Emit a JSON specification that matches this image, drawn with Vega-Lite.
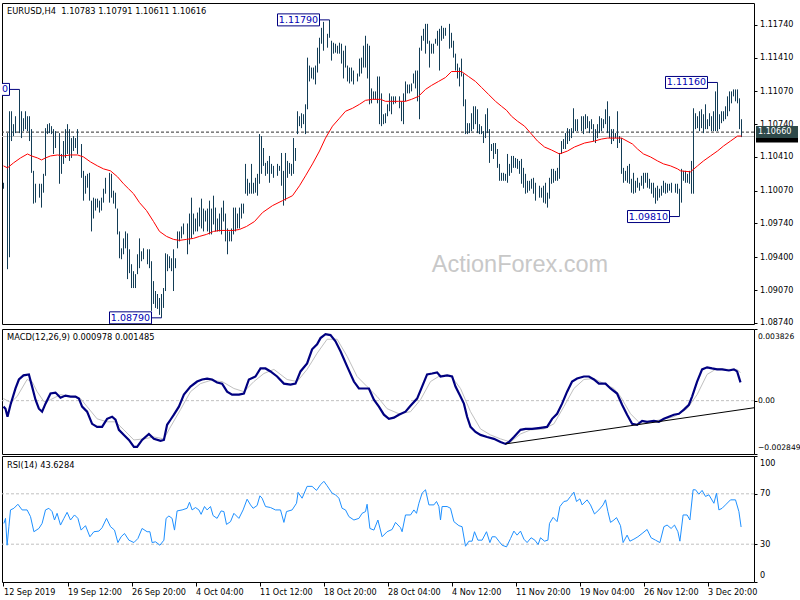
{
"$schema": "https://vega.github.io/schema/vega-lite/v6.json",
"padding": {"left": -2, "top": 2, "right": 0, "bottom": 0},
"spacing": 0,
"background": "#ffffff",
"config": {"font": "DejaVu Sans", "view": {"stroke": "#000000", "strokeWidth": 1}, "axis": {"labelFont": "DejaVu Sans", "labelFontSize": 8.1, "labelColor": "#000000", "tickColor": "#000000", "grid": false, "domain": false, "tickSize": 3, "labelPadding": 2.5, "labelOverlap": false, "labelBound": false}},
"datasets": {
"bars": [
{"i":0,"h":1.1015,"l":1.1009},{"i":2,"h":1.1065,"l":1.0928},{"i":3,"h":1.1087,"l":1.0940},{"i":4,"h":1.1087,"l":1.1057},{"i":5,"h":1.1074,"l":1.1062},{"i":6,"h":1.1082,"l":1.1065},{"i":8,"h":1.1109,"l":1.1065},{"i":9,"h":1.1087,"l":1.1060},{"i":10,"h":1.1080,"l":1.1067},{"i":11,"h":1.1087,"l":1.1069},{"i":12,"h":1.1082,"l":1.1067},{"i":13,"h":1.1082,"l":1.1057},{"i":14,"h":1.1069,"l":1.1025},{"i":15,"h":1.1027,"l":1.0994},{"i":16,"h":1.1014,"l":1.0995},{"i":18,"h":1.1014,"l":1.1000},{"i":19,"h":1.1014,"l":1.0990},{"i":20,"h":1.1024,"l":1.1005},{"i":21,"h":1.1070,"l":1.1022},{"i":22,"h":1.1074,"l":1.1064},{"i":23,"h":1.1075,"l":1.1065},{"i":24,"h":1.1072,"l":1.1064},{"i":25,"h":1.1069,"l":1.1044},{"i":26,"h":1.1067,"l":1.1050},{"i":28,"h":1.1065,"l":1.1014},{"i":29,"h":1.1044,"l":1.1024},{"i":30,"h":1.1057,"l":1.1034},{"i":31,"h":1.1069,"l":1.1040},{"i":32,"h":1.1074,"l":1.1044},{"i":33,"h":1.1069,"l":1.1037},{"i":34,"h":1.1060,"l":1.1040},{"i":35,"h":1.1062,"l":1.1047},{"i":36,"h":1.1060,"l":1.1050},{"i":37,"h":1.1069,"l":1.1044},{"i":39,"h":1.1054,"l":1.1020},{"i":40,"h":1.1027,"l":1.0997},{"i":41,"h":1.1022,"l":1.1004},{"i":42,"h":1.1024,"l":1.1010},{"i":43,"h":1.1025,"l":1.0997},{"i":44,"h":1.0997,"l":1.0966},{"i":45,"h":1.1000,"l":1.0979},{"i":46,"h":1.0999,"l":1.0987},{"i":47,"h":1.0999,"l":1.0990},{"i":48,"h":1.0997,"l":1.0985},{"i":49,"h":1.1000,"l":1.0987},{"i":50,"h":1.1009,"l":1.0995},{"i":51,"h":1.1020,"l":1.1004},{"i":53,"h":1.1025,"l":1.0995},{"i":54,"h":1.1024,"l":1.1000},{"i":55,"h":1.1007,"l":1.0994},{"i":56,"h":1.1005,"l":1.0989},{"i":57,"h":1.0989,"l":1.0963},{"i":58,"h":1.0966,"l":1.0939},{"i":59,"h":1.0949,"l":1.0938},{"i":60,"h":1.0959,"l":1.0943},{"i":61,"h":1.0966,"l":1.0949},{"i":62,"h":1.0964,"l":1.0918},
{"i":63,"h":1.0948,"l":1.0924},{"i":64,"h":1.0933,"l":1.0909},{"i":65,"h":1.0926,"l":1.0909},{"i":66,"h":1.0923,"l":1.0909},{"i":67,"h":1.0943,"l":1.0923},{"i":68,"h":1.0959,"l":1.0929},{"i":69,"h":1.0946,"l":1.0936},{"i":70,"h":1.0949,"l":1.0938},{"i":72,"h":1.0948,"l":1.0933},{"i":73,"h":1.0948,"l":1.0929},{"i":74,"h":1.0936,"l":1.0886},{"i":75,"h":1.0916,"l":1.0893},{"i":76,"h":1.0906,"l":1.0889},{"i":77,"h":1.0903,"l":1.0888},{"i":78,"h":1.0899,"l":1.0882},{"i":79,"h":1.0903,"l":1.0879},{"i":80,"h":1.0909,"l":1.0889},{"i":81,"h":1.0944,"l":1.0906},{"i":82,"h":1.0943,"l":1.0926},{"i":83,"h":1.0941,"l":1.0929},{"i":84,"h":1.0939,"l":1.0926},{"i":85,"h":1.0948,"l":1.0906},{"i":86,"h":1.0939,"l":1.0929},{"i":87,"h":1.0966,"l":1.0949},{"i":88,"h":1.0966,"l":1.0956},{"i":89,"h":1.0971,"l":1.0959},{"i":90,"h":1.0974,"l":1.0963},{"i":92,"h":1.0974,"l":1.0943},{"i":93,"h":1.0984,"l":1.0953},{"i":94,"h":1.1000,"l":1.0959},{"i":95,"h":1.0984,"l":1.0963},{"i":96,"h":1.0979,"l":1.0966},{"i":97,"h":1.0985,"l":1.0966},{"i":98,"h":1.0990,"l":1.0971},{"i":99,"h":1.0999,"l":1.0969},{"i":100,"h":1.0989,"l":1.0966},{"i":101,"h":1.0987,"l":1.0976},{"i":102,"h":1.0989,"l":1.0966},{"i":103,"h":1.0997,"l":1.0963},{"i":104,"h":1.0989,"l":1.0963},{"i":105,"h":1.1002,"l":1.0973},{"i":106,"h":1.0990,"l":1.0966},{"i":107,"h":1.0979,"l":1.0966},{"i":108,"h":1.0984,"l":1.0966},{"i":109,"h":1.0990,"l":1.0963},{"i":110,"h":1.0997,"l":1.0976},{"i":111,"h":1.0984,"l":1.0956},{"i":112,"h":1.0969,"l":1.0943},{"i":113,"h":1.0966,"l":1.0956},{"i":114,"h":1.0969,"l":1.0956},{"i":115,"h":1.0990,"l":1.0963},{"i":116,"h":1.0990,"l":1.0966},{"i":117,"h":1.0984,"l":1.0969},{"i":118,"h":1.0990,"l":1.0969},{"i":119,"h":1.0994,"l":1.0979},{"i":120,"h":1.0994,"l":1.0984},{"i":121,"h":1.1034,"l":1.1004},{"i":122,"h":1.1019,"l":1.1002},{"i":123,"h":1.1015,"l":1.1004},{"i":124,"h":1.1034,"l":1.1004},
{"i":125,"h":1.1015,"l":1.1004},{"i":126,"h":1.1020,"l":1.1005},{"i":127,"h":1.1024,"l":1.1002},{"i":128,"h":1.1064,"l":1.1014},{"i":129,"h":1.1062,"l":1.1024},{"i":130,"h":1.1050,"l":1.1032},{"i":131,"h":1.1035,"l":1.1022},{"i":132,"h":1.1037,"l":1.1024},{"i":133,"h":1.1042,"l":1.1015},{"i":134,"h":1.1034,"l":1.1024},{"i":135,"h":1.1032,"l":1.1020},{"i":137,"h":1.1034,"l":1.1022},{"i":138,"h":1.1032,"l":1.1027},{"i":139,"h":1.1045,"l":1.1012},{"i":140,"h":1.1027,"l":1.0992},{"i":141,"h":1.1045,"l":1.0997},{"i":142,"h":1.1037,"l":1.1020},{"i":143,"h":1.1035,"l":1.1024},{"i":144,"h":1.1034,"l":1.1022},{"i":145,"h":1.1060,"l":1.1024},{"i":146,"h":1.1050,"l":1.1037},{"i":147,"h":1.1087,"l":1.1064},{"i":148,"h":1.1082,"l":1.1072},{"i":149,"h":1.1085,"l":1.1070},{"i":150,"h":1.1084,"l":1.1074},{"i":151,"h":1.1094,"l":1.1064},{"i":152,"h":1.1141,"l":1.1089},{"i":153,"h":1.1133,"l":1.1117},{"i":154,"h":1.1131,"l":1.1120},{"i":155,"h":1.1131,"l":1.1119},{"i":156,"h":1.1133,"l":1.1114},{"i":157,"h":1.1151,"l":1.1126},{"i":158,"h":1.1161,"l":1.1135},{"i":159,"h":1.1171,"l":1.1155},{"i":160,"h":1.1177,"l":1.1148},{"i":162,"h":1.1165,"l":1.1151},{"i":163,"h":1.1179,"l":1.1161},{"i":164,"h":1.1158,"l":1.1138},{"i":165,"h":1.1156,"l":1.1145},{"i":166,"h":1.1155,"l":1.1146},{"i":167,"h":1.1153,"l":1.1145},{"i":168,"h":1.1156,"l":1.1145},{"i":169,"h":1.1155,"l":1.1135},{"i":170,"h":1.1148,"l":1.1120},{"i":171,"h":1.1153,"l":1.1131},{"i":172,"h":1.1133,"l":1.1117},{"i":173,"h":1.1131,"l":1.1115},{"i":174,"h":1.1131,"l":1.1117},{"i":175,"h":1.1128,"l":1.1114},{"i":177,"h":1.1125,"l":1.1117},{"i":178,"h":1.1140,"l":1.1122},{"i":179,"h":1.1141,"l":1.1125},{"i":180,"h":1.1153,"l":1.1131},{"i":181,"h":1.1163,"l":1.1131},{"i":182,"h":1.1155,"l":1.1120},{"i":183,"h":1.1153,"l":1.1094},{"i":184,"h":1.1110,"l":1.1095},{"i":185,"h":1.1107,"l":1.1099},{"i":186,"h":1.1107,"l":1.1099},{"i":187,"h":1.1122,"l":1.1095},
{"i":188,"h":1.1122,"l":1.1074},{"i":189,"h":1.1105,"l":1.1072},{"i":190,"h":1.1084,"l":1.1074},{"i":191,"h":1.1085,"l":1.1075},{"i":192,"h":1.1094,"l":1.1082},{"i":193,"h":1.1105,"l":1.1087},{"i":194,"h":1.1102,"l":1.1084},{"i":195,"h":1.1102,"l":1.1094},{"i":196,"h":1.1102,"l":1.1095},{"i":198,"h":1.1102,"l":1.1090},{"i":199,"h":1.1097,"l":1.1077},{"i":200,"h":1.1105,"l":1.1074},{"i":201,"h":1.1117,"l":1.1097},{"i":202,"h":1.1114,"l":1.1105},{"i":203,"h":1.1114,"l":1.1105},{"i":204,"h":1.1115,"l":1.1107},{"i":205,"h":1.1125,"l":1.1115},{"i":206,"h":1.1128,"l":1.1110},{"i":207,"h":1.1128,"l":1.1097},{"i":208,"h":1.1151,"l":1.1079},{"i":209,"h":1.1163,"l":1.1148},{"i":210,"h":1.1170,"l":1.1158},{"i":211,"h":1.1175,"l":1.1145},{"i":212,"h":1.1175,"l":1.1155},{"i":213,"h":1.1158,"l":1.1131},{"i":214,"h":1.1155,"l":1.1145},{"i":215,"h":1.1155,"l":1.1145},{"i":216,"h":1.1160,"l":1.1155},{"i":217,"h":1.1168,"l":1.1153},{"i":218,"h":1.1170,"l":1.1128},{"i":219,"h":1.1173,"l":1.1158},{"i":220,"h":1.1171,"l":1.1160},{"i":221,"h":1.1171,"l":1.1163},{"i":223,"h":1.1175,"l":1.1150},{"i":224,"h":1.1166,"l":1.1151},{"i":225,"h":1.1158,"l":1.1141},{"i":226,"h":1.1145,"l":1.1128},{"i":227,"h":1.1135,"l":1.1120},{"i":228,"h":1.1131,"l":1.1112},{"i":229,"h":1.1140,"l":1.1122},{"i":230,"h":1.1125,"l":1.1092},{"i":231,"h":1.1099,"l":1.1064},{"i":232,"h":1.1075,"l":1.1064},{"i":233,"h":1.1075,"l":1.1065},{"i":234,"h":1.1085,"l":1.1067},{"i":235,"h":1.1092,"l":1.1069},{"i":236,"h":1.1092,"l":1.1074},{"i":237,"h":1.1089,"l":1.1065},{"i":238,"h":1.1074,"l":1.1064},{"i":239,"h":1.1072,"l":1.1064},{"i":240,"h":1.1067,"l":1.1055},{"i":241,"h":1.1084,"l":1.1060},{"i":242,"h":1.1090,"l":1.1065},{"i":243,"h":1.1069,"l":1.1035},{"i":244,"h":1.1054,"l":1.1047},{"i":245,"h":1.1055,"l":1.1039},{"i":246,"h":1.1055,"l":1.1044},{"i":247,"h":1.1049,"l":1.1030},{"i":248,"h":1.1034,"l":1.1017},{"i":249,"h":1.1025,"l":1.1017},{"i":250,"h":1.1025,"l":1.1017},
{"i":251,"h":1.1024,"l":1.1017},{"i":252,"h":1.1044,"l":1.1015},{"i":253,"h":1.1034,"l":1.1022},{"i":254,"h":1.1042,"l":1.1025},{"i":255,"h":1.1042,"l":1.1030},{"i":256,"h":1.1040,"l":1.1030},{"i":257,"h":1.1039,"l":1.1029},{"i":258,"h":1.1037,"l":1.1024},{"i":259,"h":1.1039,"l":1.1014},{"i":260,"h":1.1030,"l":1.1010},{"i":261,"h":1.1024,"l":1.1004},{"i":262,"h":1.1017,"l":1.1005},{"i":263,"h":1.1017,"l":1.1007},{"i":264,"h":1.1019,"l":1.1009},{"i":265,"h":1.1020,"l":1.1004},{"i":266,"h":1.1015,"l":1.0997},{"i":268,"h":1.1012,"l":1.1000},{"i":269,"h":1.1010,"l":1.1000},{"i":270,"h":1.1012,"l":1.0995},{"i":271,"h":1.1015,"l":1.0994},{"i":272,"h":1.1005,"l":1.0990},{"i":273,"h":1.1020,"l":1.0999},{"i":274,"h":1.1029,"l":1.1014},{"i":275,"h":1.1029,"l":1.1015},{"i":276,"h":1.1027,"l":1.1017},{"i":277,"h":1.1030,"l":1.1017},{"i":278,"h":1.1045,"l":1.1019},{"i":279,"h":1.1057,"l":1.1044},{"i":280,"h":1.1059,"l":1.1049},{"i":281,"h":1.1065,"l":1.1049},{"i":282,"h":1.1070,"l":1.1054},{"i":283,"h":1.1069,"l":1.1057},{"i":284,"h":1.1070,"l":1.1060},{"i":285,"h":1.1090,"l":1.1065},{"i":286,"h":1.1079,"l":1.1067},{"i":287,"h":1.1079,"l":1.1067},{"i":289,"h":1.1082,"l":1.1067},{"i":290,"h":1.1082,"l":1.1064},{"i":291,"h":1.1084,"l":1.1069},{"i":292,"h":1.1082,"l":1.1070},{"i":293,"h":1.1077,"l":1.1065},{"i":294,"h":1.1079,"l":1.1069},{"i":295,"h":1.1074,"l":1.1057},{"i":296,"h":1.1069,"l":1.1055},{"i":297,"h":1.1074,"l":1.1060},{"i":298,"h":1.1082,"l":1.1065},{"i":299,"h":1.1080,"l":1.1067},{"i":300,"h":1.1079,"l":1.1070},{"i":301,"h":1.1089,"l":1.1074},{"i":302,"h":1.1097,"l":1.1065},{"i":303,"h":1.1082,"l":1.1060},{"i":304,"h":1.1069,"l":1.1054},{"i":305,"h":1.1069,"l":1.1057},{"i":306,"h":1.1065,"l":1.1060},{"i":307,"h":1.1087,"l":1.1050},{"i":308,"h":1.1062,"l":1.1055},{"i":309,"h":1.1060,"l":1.1024},{"i":310,"h":1.1030,"l":1.1015},{"i":311,"h":1.1027,"l":1.1017},{"i":312,"h":1.1032,"l":1.1015},{"i":313,"h":1.1034,"l":1.1014},
{"i":314,"h":1.1019,"l":1.1005},{"i":315,"h":1.1025,"l":1.1004},{"i":316,"h":1.1017,"l":1.1005},{"i":317,"h":1.1020,"l":1.1010},{"i":318,"h":1.1015,"l":1.1007},{"i":319,"h":1.1022,"l":1.1012},{"i":320,"h":1.1025,"l":1.1009},{"i":321,"h":1.1025,"l":1.1015},{"i":322,"h":1.1025,"l":1.1010},{"i":323,"h":1.1019,"l":1.1009},{"i":324,"h":1.1015,"l":1.1004},{"i":325,"h":1.1015,"l":1.1000},{"i":326,"h":1.1010,"l":1.0994},{"i":327,"h":1.1012,"l":1.0997},{"i":328,"h":1.1009,"l":1.1000},{"i":329,"h":1.1012,"l":1.1002},{"i":330,"h":1.1017,"l":1.1005},{"i":331,"h":1.1015,"l":1.1004},{"i":332,"h":1.1014,"l":1.1005},{"i":333,"h":1.1014,"l":1.1007},{"i":334,"h":1.1015,"l":1.1005},{"i":336,"h":1.1014,"l":1.1005},{"i":337,"h":1.1014,"l":1.1004},{"i":338,"h":1.1009,"l":1.0981},{"i":339,"h":1.1029,"l":1.0995},{"i":340,"h":1.1027,"l":1.1017},{"i":341,"h":1.1027,"l":1.1015},{"i":342,"h":1.1024,"l":1.1015},{"i":343,"h":1.1027,"l":1.1014},{"i":344,"h":1.1037,"l":1.1004},{"i":345,"h":1.1090,"l":1.1004},{"i":346,"h":1.1085,"l":1.1069},{"i":347,"h":1.1082,"l":1.1070},{"i":348,"h":1.1087,"l":1.1067},{"i":349,"h":1.1089,"l":1.1070},{"i":350,"h":1.1084,"l":1.1065},{"i":351,"h":1.1094,"l":1.1069},{"i":352,"h":1.1079,"l":1.1069},{"i":353,"h":1.1085,"l":1.1072},{"i":354,"h":1.1082,"l":1.1067},{"i":355,"h":1.1087,"l":1.1067},{"i":356,"h":1.1107,"l":1.1067},{"i":357,"h":1.1116,"l":1.1067},{"i":358,"h":1.1084,"l":1.1069},{"i":359,"h":1.1087,"l":1.1075},{"i":360,"h":1.1087,"l":1.1077},{"i":361,"h":1.1092,"l":1.1079},{"i":362,"h":1.1102,"l":1.1082},{"i":363,"h":1.1107,"l":1.1087},{"i":364,"h":1.1107,"l":1.1095},{"i":365,"h":1.1109,"l":1.1102},{"i":366,"h":1.1109,"l":1.1097},{"i":367,"h":1.1109,"l":1.1095},{"i":368,"h":1.1100,"l":1.1069},{"i":369,"h":1.1079,"l":1.1061}
],
"ma": [
{"i":0,"m":1.1032},{"i":2,"m":1.1030},{"i":5,"m":1.1035},{"i":8.5,"m":1.1040},{"i":12,"m":1.1044},{"i":14,"m":1.1042},{"i":17,"m":1.1040},{"i":19,"m":1.1038},{"i":21,"m":1.1040},{"i":23.5,"m":1.1042},{"i":27,"m":1.1043},{"i":30,"m":1.1042},{"i":33.5,"m":1.1043},{"i":37,"m":1.1043},{"i":40,"m":1.1041},{"i":43.5,"m":1.1036},{"i":47,"m":1.1032},{"i":50,"m":1.1029},{"i":53.5,"m":1.1027},{"i":57,"m":1.1021},{"i":60,"m":1.1014},{"i":62.5,"m":1.1009},{"i":65,"m":1.1004},{"i":68,"m":1.0995},{"i":71.5,"m":1.0987},{"i":75,"m":1.0976},{"i":78,"m":1.0966},{"i":81.5,"m":1.0961},{"i":85,"m":1.0958},{"i":88,"m":1.0957},{"i":91.5,"m":1.0958},{"i":95,"m":1.0959},{"i":98,"m":1.0961},{"i":101.5,"m":1.0963},{"i":105,"m":1.0966},{"i":108,"m":1.0967},{"i":111.5,"m":1.0967},{"i":115,"m":1.0967},{"i":118,"m":1.0968},{"i":121.5,"m":1.0971},{"i":125.5,"m":1.0976},{"i":129.5,"m":1.0985},{"i":134.5,"m":1.0992},{"i":139.5,"m":1.0997},{"i":144.5,"m":1.1002},{"i":148,"m":1.1012},{"i":151,"m":1.1022},{"i":154.5,"m":1.1034},{"i":158,"m":1.1047},{"i":161,"m":1.1060},{"i":164.5,"m":1.1072},{"i":168,"m":1.1080},{"i":171,"m":1.1087},{"i":174.5,"m":1.1090},{"i":178,"m":1.1094},{"i":181,"m":1.1098},{"i":184.5,"m":1.1099},{"i":188.5,"m":1.1099},{"i":191,"m":1.1097},{"i":194,"m":1.1097},{"i":197.5,"m":1.1097},{"i":201,"m":1.1097},{"i":204,"m":1.1099},{"i":207.5,"m":1.1102},{"i":211,"m":1.1109},{"i":214,"m":1.1113},{"i":217.5,"m":1.1117},{"i":221,"m":1.1121},{"i":224,"m":1.1127},{"i":229,"m":1.1127},{"i":232.5,"m":1.1122},{"i":236,"m":1.1117},{"i":239,"m":1.1111},{"i":242.5,"m":1.1104},{"i":246,"m":1.1097},{"i":249,"m":1.1092},{"i":251.5,"m":1.1088},{"i":254,"m":1.1082},{"i":257,"m":1.1077},{"i":260.5,"m":1.1072},{"i":264,"m":1.1064},{"i":267,"m":1.1057},{"i":270.5,"m":1.1051},{"i":274,"m":1.1048},{"i":278,"m":1.1044},{"i":282,"m":1.1047},{"i":285.5,"m":1.1051},{"i":290.5,"m":1.1055},{"i":295.5,"m":1.1057},{"i":299,"m":1.1059},{"i":302,"m":1.1060},{"i":309,"m":1.1060},{"i":314.5,"m":1.1054},{"i":317,"m":1.1049},{"i":320,"m":1.1044},{"i":323.5,"m":1.1041},{"i":327,"m":1.1037},{"i":330,"m":1.1034},{"i":333.5,"m":1.1032},{"i":337,"m":1.1029},{"i":338.5,"m":1.1027},{"i":343.5,"m":1.1026},{"i":347,"m":1.1032},{"i":350,"m":1.1037},{"i":353.5,"m":1.1042},{"i":357,"m":1.1047},{"i":360,"m":1.1052},{"i":363.5,"m":1.1057},{"i":367,"m":1.1062},{"i":369,"m":1.1062}
],
"macd": [
{"i":0,"v":-0.00032},{"i":1,"v":-0.00043},{"i":2,"v":-0.00086},{"i":3.5,"v":-0.00022},{"i":6,"v":0.00065},{"i":7.7,"v":0.00113},{"i":10,"v":0.00135},{"i":12.7,"v":0.0014},{"i":14.3,"v":0.00075},{"i":16,"v":0.00005},{"i":17.7,"v":-0.00043},{"i":19.3,"v":-0.00059},{"i":21,"v":-0.00016},{"i":23.5,"v":0.00038},{"i":26,"v":0.00043},{"i":28.5,"v":0.00016},{"i":31,"v":0.00027},{"i":33.5,"v":0.00022},{"i":36,"v":0.00022},{"i":37.7,"v":0.00011},{"i":39.3,"v":-0.00032},{"i":41.8,"v":-0.00059},{"i":44.3,"v":-0.00124},{"i":46.8,"v":-0.0014},{"i":49.3,"v":-0.0014},{"i":51.8,"v":-0.00097},{"i":54.3,"v":-0.00086},{"i":56,"v":-0.00102},{"i":57.7,"v":-0.00156},{"i":60.2,"v":-0.00183},{"i":62.7,"v":-0.0021},{"i":65.2,"v":-0.00247},{"i":66.8,"v":-0.00247},{"i":69.3,"v":-0.0021},{"i":72.7,"v":-0.00178},{"i":75.2,"v":-0.00204},{"i":78.5,"v":-0.00215},{"i":80.2,"v":-0.0021},{"i":81.8,"v":-0.00129},{"i":83.5,"v":-0.00102},{"i":85.2,"v":-0.00075},{"i":87.7,"v":-0.00032},{"i":90.2,"v":0.00032},{"i":93.5,"v":0.00075},{"i":96.8,"v":0.00102},{"i":99.3,"v":0.00113},{"i":101.8,"v":0.00118},{"i":104.3,"v":0.00113},{"i":106.8,"v":0.00097},{"i":109.3,"v":0.00091},{"i":111.8,"v":0.00048},{"i":114.3,"v":0.00032},{"i":117.7,"v":0.00032},{"i":120.2,"v":0.00038},{"i":122.7,"v":0.00113},{"i":126,"v":0.00129},{"i":128.5,"v":0.00172},{"i":131,"v":0.00172},{"i":133.5,"v":0.00156},{"i":136.8,"v":0.00129},{"i":140.2,"v":0.00091},{"i":143.5,"v":0.00086},{"i":146,"v":0.00091},{"i":148.5,"v":0.00156},{"i":151.8,"v":0.00199},{"i":154.3,"v":0.00274},{"i":156.8,"v":0.00301},{"i":158.5,"v":0.00334},{"i":161,"v":0.00355},{"i":163.5,"v":0.0035},{"i":166,"v":0.00317},{"i":168.5,"v":0.00264},{"i":171.8,"v":0.00183},{"i":175.2,"v":0.00102},{"i":177.7,"v":0.00065},{"i":180.2,"v":0.00065},{"i":182.7,"v":0.00065},{"i":185.2,"v":0.00005},{"i":187.7,"v":-0.00032},{"i":190.2,"v":-0.00075},{"i":192.7,"v":-0.00097},{"i":195.2,"v":-0.00091},{"i":197.7,"v":-0.00075},{"i":201,"v":-0.00059},{"i":203.5,"v":-0.00027},{"i":206.8,"v":0.00011},{"i":209.3,"v":0.00075},{"i":211.8,"v":0.0014},{"i":214.3,"v":0.00145},{"i":216.8,"v":0.00151},{"i":218.5,"v":0.00129},{"i":221.8,"v":0.00135},{"i":224.3,"v":0.00129},{"i":226,"v":0.00075},{"i":228.5,"v":0.00022},{"i":230.2,"v":-0.00016},{"i":231.8,"v":-0.00086},{"i":233.5,"v":-0.0014},{"i":236,"v":-0.00167},{"i":238.5,"v":-0.00183},{"i":241.8,"v":-0.00194},{"i":245.2,"v":-0.00204},{"i":248.5,"v":-0.00221},{"i":251,"v":-0.00231},{"i":252.7,"v":-0.00221},{"i":255.2,"v":-0.00194},{"i":258.5,"v":-0.00156},{"i":261,"v":-0.00151},{"i":264.3,"v":-0.00151},{"i":268.5,"v":-0.00145},{"i":271.8,"v":-0.0014},{"i":274.3,"v":-0.00097},{"i":276.8,"v":-0.0007},{"i":279.3,"v":-0.00016},{"i":281.8,"v":0.00048},{"i":284.3,"v":0.00102},{"i":286.8,"v":0.00118},{"i":290.2,"v":0.00129},{"i":292.7,"v":0.00129},{"i":295.2,"v":0.00113},{"i":297.7,"v":0.00091},{"i":301,"v":0.00091},{"i":303.5,"v":0.00065},{"i":306.8,"v":0.00038},{"i":309.3,"v":-0.00022},{"i":311.8,"v":-0.00075},{"i":314.3,"v":-0.00124},{"i":316.8,"v":-0.00129},{"i":319.3,"v":-0.00108},{"i":321.8,"v":-0.00113},{"i":325.2,"v":-0.00108},{"i":327.7,"v":-0.00113},{"i":330.2,"v":-0.00097},{"i":332.7,"v":-0.00086},{"i":335.2,"v":-0.00075},{"i":337.7,"v":-0.0007},{"i":340.2,"v":-0.00048},{"i":342.7,"v":-0.00022},{"i":344.3,"v":0.00022},{"i":346.8,"v":0.00102},{"i":349.3,"v":0.00167},{"i":351.8,"v":0.00178},{"i":354.3,"v":0.00172},{"i":356.8,"v":0.00167},{"i":359.3,"v":0.00167},{"i":362.7,"v":0.00161},{"i":365.2,"v":0.00167},{"i":366.8,"v":0.00156},{"i":368.5,"v":0.000978}
],
"sig": [
{"i":0,"v":0.00011},{"i":3.5,"v":-0.0001},{"i":6.8,"v":0.00022},{"i":11.8,"v":0.00113},{"i":14.3,"v":0.00102},{"i":16.8,"v":0.00048},{"i":20.2,"v":-0.00005},{"i":23.5,"v":0.00005},{"i":28.5,"v":0.00032},{"i":33.5,"v":0.00022},{"i":38.5,"v":0.00011},{"i":41.8,"v":-0.00032},{"i":46.8,"v":-0.00097},{"i":51.8,"v":-0.00113},{"i":56,"v":-0.00113},{"i":60.2,"v":-0.00156},{"i":65.2,"v":-0.0021},{"i":70.2,"v":-0.00204},{"i":75.2,"v":-0.00194},{"i":80.2,"v":-0.00204},{"i":83.5,"v":-0.0014},{"i":88.5,"v":-0.00048},{"i":93.5,"v":0.00048},{"i":98.5,"v":0.00091},{"i":103.5,"v":0.00108},{"i":109.3,"v":0.00102},{"i":115.2,"v":0.00065},{"i":120.2,"v":0.00048},{"i":125.2,"v":0.00102},{"i":130.2,"v":0.00145},{"i":135.2,"v":0.00167},{"i":141.8,"v":0.00113},{"i":146.8,"v":0.00102},{"i":151.8,"v":0.00167},{"i":156.8,"v":0.00253},{"i":161.8,"v":0.00328},{"i":166.8,"v":0.00328},{"i":171.8,"v":0.00237},{"i":176.8,"v":0.00129},{"i":181.8,"v":0.00075},{"i":186.8,"v":0.00022},{"i":191.8,"v":-0.00043},{"i":197.7,"v":-0.0007},{"i":203.5,"v":-0.00059},{"i":208.5,"v":0.00005},{"i":213.5,"v":0.00102},{"i":218.5,"v":0.00135},{"i":223.5,"v":0.00135},{"i":228.5,"v":0.00065},{"i":233.5,"v":-0.00059},{"i":238.5,"v":-0.00151},{"i":243.5,"v":-0.00183},{"i":248.5,"v":-0.00204},{"i":253.5,"v":-0.00221},{"i":258.5,"v":-0.00178},{"i":263.5,"v":-0.00156},{"i":270.2,"v":-0.00151},{"i":275.2,"v":-0.00124},{"i":280.2,"v":-0.00032},{"i":285.2,"v":0.00065},{"i":290.2,"v":0.00113},{"i":295.2,"v":0.00118},{"i":300.2,"v":0.00091},{"i":305.2,"v":0.00065},{"i":308.5,"v":0.00022},{"i":313.5,"v":-0.0007},{"i":318.5,"v":-0.00124},{"i":323.5,"v":-0.00113},{"i":328.5,"v":-0.00102},{"i":335.2,"v":-0.00086},{"i":341.8,"v":-0.00043},{"i":346.8,"v":0.00032},{"i":351.8,"v":0.0014},{"i":356.8,"v":0.00172},{"i":361.8,"v":0.00167},{"i":366.8,"v":0.00167},{"i":368.5,"v":0.001485}
],
"rsi": [
{"i":0.2,"r":46.5},{"i":1,"r":50.5},{"i":1.8,"r":29.2},{"i":2.7,"r":43.9},{"i":3.5,"r":57.2},{"i":5.2,"r":58.5},{"i":7.2,"r":61.7},{"i":9.3,"r":57.2},{"i":11.8,"r":57.2},{"i":13.5,"r":51.9},{"i":15.2,"r":39.9},{"i":17.7,"r":42.5},{"i":19.3,"r":46.5},{"i":21,"r":57.2},{"i":22.7,"r":58.5},{"i":24.3,"r":55.9},{"i":25.5,"r":49.2},{"i":26.8,"r":54.5},{"i":28.5,"r":45.2},{"i":30.2,"r":50.5},{"i":31.8,"r":55.3},{"i":33.5,"r":49.2},{"i":35.5,"r":53.2},{"i":37.2,"r":50.5},{"i":38.8,"r":41.2},{"i":41,"r":44.7},{"i":43.2,"r":35.9},{"i":45.2,"r":39.9},{"i":47.7,"r":40.4},{"i":49.3,"r":43.1},{"i":51.5,"r":50.5},{"i":53.5,"r":43.9},{"i":55.5,"r":41.2},{"i":57.2,"r":31.3},{"i":58.8,"r":35.9},{"i":60.5,"r":38.5},{"i":62.7,"r":33.2},{"i":65.2,"r":31.3},{"i":67.2,"r":34.5},{"i":69.3,"r":42.5},{"i":71.8,"r":39.9},{"i":73.2,"r":39.9},{"i":74.3,"r":31.3},{"i":76,"r":31.9},{"i":78.2,"r":29.2},{"i":80.2,"r":33.2},{"i":81.3,"r":50.5},{"i":82.7,"r":52.4},{"i":84.3,"r":50.5},{"i":85.5,"r":41.2},{"i":86.8,"r":56.4},{"i":89.3,"r":57.2},{"i":91.8,"r":58.5},{"i":93,"r":63.3},{"i":94.3,"r":57.2},{"i":96,"r":59.1},{"i":97.7,"r":57.2},{"i":98.8,"r":53.7},{"i":100.5,"r":59.9},{"i":101.8,"r":57.2},{"i":103.5,"r":59.9},{"i":104.8,"r":52.7},{"i":106.8,"r":50.5},{"i":108.8,"r":56.4},{"i":110.2,"r":55.9},{"i":111.5,"r":45.7},{"i":113.5,"r":47.9},{"i":115.2,"r":54.5},{"i":117.7,"r":50.5},{"i":119.8,"r":57.2},{"i":121.8,"r":65.7},{"i":123.5,"r":61.2},{"i":124.8,"r":58.5},{"i":126.8,"r":60.7},{"i":128.2,"r":68.4},{"i":129.3,"r":66.5},{"i":131,"r":59.9},{"i":133.5,"r":59.1},{"i":136,"r":57.2},{"i":138.5,"r":57.2},{"i":140.2,"r":47.3},{"i":141.5,"r":55.9},{"i":144.3,"r":57.2},{"i":146.5,"r":62.5},{"i":147.3,"r":71.1},{"i":149.3,"r":66.5},{"i":151.8,"r":75.9},{"i":154.3,"r":75.9},{"i":156.5,"r":72.7},{"i":158.5,"r":77.2},{"i":160.2,"r":79.9},{"i":161.8,"r":76.4},{"i":164.3,"r":70.5},{"i":166,"r":69.2},{"i":167.7,"r":66.5},{"i":169.3,"r":58.5},{"i":171,"r":57.2},{"i":172.7,"r":51.9},{"i":175.2,"r":49.2},{"i":177.7,"r":50.5},{"i":179.3,"r":54.5},{"i":181,"r":55.9},{"i":181.8,"r":61.7},{"i":183.2,"r":42.5},{"i":185.2,"r":41.2},{"i":187.2,"r":49.2},{"i":189.3,"r":35.9},{"i":191.8,"r":39.9},{"i":194.3,"r":41.7},{"i":196,"r":47.3},{"i":198.5,"r":43.1},{"i":199.3,"r":39.9},{"i":201,"r":53.2},{"i":203.5,"r":53.2},{"i":205.2,"r":57.2},{"i":206.5,"r":54.5},{"i":207.7,"r":62.5},{"i":209.3,"r":70.5},{"i":211,"r":73.2},{"i":212.7,"r":61.2},{"i":215.2,"r":61.2},{"i":216.5,"r":63.9},{"i":217.7,"r":59.9},{"i":218.5,"r":49.2},{"i":219.3,"r":59.9},{"i":221.8,"r":59.9},{"i":223.5,"r":58.5},{"i":225.2,"r":47.9},{"i":227.7,"r":44.7},{"i":229.3,"r":43.9},{"i":231,"r":28.4},{"i":232.7,"r":32.4},{"i":234.3,"r":32.4},{"i":235.5,"r":39.9},{"i":237.2,"r":33.2},{"i":239.3,"r":33.2},{"i":241.5,"r":39.9},{"i":243.2,"r":31.3},{"i":244.3,"r":35.9},{"i":246,"r":35.9},{"i":247.7,"r":32.4},{"i":249.3,"r":29.2},{"i":251.5,"r":27.9},{"i":253.5,"r":34.5},{"i":255.2,"r":40.4},{"i":256.8,"r":37.2},{"i":258.5,"r":40.4},{"i":260.2,"r":34},{"i":261.8,"r":31.3},{"i":263.8,"r":35.1},{"i":265.7,"r":33.2},{"i":267.3,"r":29.7},{"i":268.5,"r":35.1},{"i":270.5,"r":32.4},{"i":272.2,"r":33.2},{"i":273,"r":46.5},{"i":274.8,"r":51.3},{"i":276.8,"r":47.9},{"i":278.2,"r":59.9},{"i":280.2,"r":63.9},{"i":281.8,"r":64.4},{"i":283.5,"r":67.9},{"i":285.2,"r":71.3},{"i":286.5,"r":63.9},{"i":288.2,"r":66},{"i":289.3,"r":61.2},{"i":291.8,"r":65.2},{"i":293.5,"r":61.2},{"i":295.5,"r":54},{"i":297.7,"r":57.2},{"i":299.8,"r":61.2},{"i":301,"r":65.2},{"i":302.2,"r":55.9},{"i":303.5,"r":47.3},{"i":305.2,"r":49.2},{"i":306.5,"r":51.1},{"i":308.5,"r":44.7},{"i":309.8,"r":31.3},{"i":311.8,"r":37.2},{"i":313.2,"r":32.4},{"i":315.2,"r":34},{"i":317.2,"r":35.9},{"i":319.3,"r":38.5},{"i":321.8,"r":41.7},{"i":323.8,"r":35.1},{"i":326,"r":33.2},{"i":328.2,"r":31.3},{"i":330.2,"r":43.9},{"i":331.8,"r":45.2},{"i":333.8,"r":42.5},{"i":335.5,"r":45.2},{"i":337.2,"r":39.9},{"i":338.2,"r":32.4},{"i":339.8,"r":53.2},{"i":341.8,"r":53.2},{"i":343.2,"r":49.2},{"i":344.8,"r":73.2},{"i":346,"r":73.2},{"i":347.7,"r":69.7},{"i":349.3,"r":72.7},{"i":351,"r":67.9},{"i":352.7,"r":69.2},{"i":355.2,"r":62.5},{"i":356.5,"r":70.5},{"i":357.7,"r":57.2},{"i":359.3,"r":58.5},{"i":361,"r":61.2},{"i":363.5,"r":65.2},{"i":366,"r":65.2},{"i":367.7,"r":55.9},{"i":368.8,"r":43.6284}
],
"labels": [
{"i":163,"p":1.1179,"t":"1.11790"},{"i":79,"p":1.0879,"t":"1.08790"},{"i":338,"p":1.0981,"t":"1.09810"},{"i":357,"p":1.1116,"t":"1.11160"},{"i":8,"p":1.1109,"t":"1.11090"}
]
},
"vconcat": [
{
"width": 752, "height": 321,
"layer": [
{"data": {"values": [{"t": "ActionForex.com"}]}, "mark": {"type": "text", "font": "Liberation Sans", "fontSize": 23.5, "color": "#c8c8c8", "align": "center", "baseline": "middle"},
 "encoding": {"x": {"datum": 258.25, "type": "quantitative", "scale": {"domain": [-0.75, 375.25], "nice": false, "zero": false}, "axis": null},
  "y": {"datum": 1.09327, "type": "quantitative", "scale": {"domain": [1.08728, 1.1196], "nice": false, "zero": false},
   "axis": {"orient": "right", "title": null, "values": [1.0874, 1.0907, 1.094, 1.0974, 1.1007, 1.1041, 1.1074, 1.1107, 1.1141, 1.1174], "tickCount": 30, "labelExpr": "format(datum.value, '.5f')", "labelOverlap": false, "labelFlush": false}},
  "text": {"field": "t"}}},
{"data": {"values": [{"p": 1.10616}]}, "mark": {"type": "rule", "color": "#c0c0c0", "strokeWidth": 1},
 "encoding": {"y": {"field": "p", "type": "quantitative"}}},
{"data": {"values": [{"p": 1.1066}]}, "mark": {"type": "rule", "color": "#303030", "strokeWidth": 1, "strokeDash": [3, 2]},
 "encoding": {"y": {"field": "p", "type": "quantitative"}}},
{"data": {"name": "bars"}, "mark": {"type": "rule", "color": "#133d56", "strokeWidth": 1},
 "encoding": {"x": {"field": "i", "type": "quantitative", "axis": null}, "y": {"field": "h", "type": "quantitative"}, "y2": {"field": "l"}}},
{"data": {"name": "ma"}, "mark": {"type": "line", "color": "#ff0000", "strokeWidth": 1},
 "encoding": {"x": {"field": "i", "type": "quantitative", "axis": null}, "y": {"field": "m", "type": "quantitative"}}},
{"data": {"values": [{"t": "EURUSD,H4\u00a0 1.10783 1.10791 1.10611 1.10616"}]}, "mark": {"type": "text", "fontSize": 8.3, "color": "#000000", "align": "left", "baseline": "middle"},
 "encoding": {"x": {"datum": 1.75, "type": "quantitative", "axis": null}, "y": {"datum": 1.11869, "type": "quantitative"}, "text": {"field": "t"}}},
{"data": {"name": "labels"}, "mark": {"type": "rule", "color": "#000080", "strokeWidth": 1, "xOffset": -10, "clip": true},
 "encoding": {"x": {"field": "i", "type": "quantitative", "axis": null}, "x2": {"field": "i"}, "y": {"field": "p", "type": "quantitative"}}},
{"data": {"name": "labels"}, "mark": {"type": "rect", "fill": "#ffffff", "stroke": "#000080", "strokeWidth": 1, "xOffset": -52, "x2Offset": -10, "yOffset": -6, "y2Offset": 6, "clip": true},
 "encoding": {"x": {"field": "i", "type": "quantitative", "axis": null}, "x2": {"field": "i"}, "y": {"field": "p", "type": "quantitative"}, "y2": {"field": "p"}}},
{"data": {"name": "labels"}, "mark": {"type": "text", "fontSize": 9.5, "color": "#0000b4", "align": "center", "baseline": "middle", "dx": -31, "clip": true},
 "encoding": {"x": {"field": "i", "type": "quantitative", "axis": null}, "y": {"field": "p", "type": "quantitative"}, "text": {"field": "t"}}},
{"data": {"values": [{"p": 1.10616, "t": "1.10616"}]}, "mark": {"type": "rect", "fill": "#000000", "xOffset": 2, "x2Offset": 44, "yOffset": -6, "y2Offset": 6},
 "encoding": {"x": {"datum": 375.25, "type": "quantitative", "axis": null}, "x2": {"datum": 375.25}, "y": {"field": "p", "type": "quantitative"}, "y2": {"field": "p"}}},
{"data": {"values": [{"p": 1.10616, "t": "1.10616"}]}, "mark": {"type": "text", "fontSize": 8.1, "color": "#ffffff", "align": "left", "baseline": "middle", "dx": 4},
 "encoding": {"x": {"datum": 375.25, "type": "quantitative", "axis": null}, "y": {"field": "p", "type": "quantitative"}, "text": {"field": "t"}}},
{"data": {"values": [{"p": 1.1066, "t": "1.10660"}]}, "mark": {"type": "rect", "fill": "#2f4a4a", "xOffset": 2, "x2Offset": 44, "yOffset": -6, "y2Offset": 6},
 "encoding": {"x": {"datum": 375.25, "type": "quantitative", "axis": null}, "x2": {"datum": 375.25}, "y": {"field": "p", "type": "quantitative"}, "y2": {"field": "p"}}},
{"data": {"values": [{"p": 1.1066, "t": "1.10660"}]}, "mark": {"type": "text", "fontSize": 8.1, "color": "#ffffff", "align": "left", "baseline": "middle", "dx": 4},
 "encoding": {"x": {"datum": 375.25, "type": "quantitative", "axis": null}, "y": {"field": "p", "type": "quantitative"}, "text": {"field": "t"}}}
]
},
{
"width": 752, "height": 125,
"layer": [
{"data": {"values": [{"v": 0}]}, "mark": {"type": "rule", "color": "#c0c0c0", "strokeWidth": 1, "strokeDash": [3, 2]},
 "encoding": {"y": {"field": "v", "type": "quantitative", "scale": {"domain": [-0.002849, 0.003826], "nice": false, "zero": false},
  "axis": {"orient": "right", "title": null, "values": [-0.002849, 0, 0.003826], "tickCount": 30, "labelExpr": "datum.value == 0 ? '0.00' : format(datum.value, '.6f')", "labelFlush": true, "labelFlushOffset": -3, "labelOverlap": false, "labelPadding": 0.5, "labelFontSize": 7.6}}}},
{"data": {"name": "sig"}, "mark": {"type": "line", "color": "#c0c0c0", "strokeWidth": 1},
 "encoding": {"x": {"field": "i", "type": "quantitative", "scale": {"domain": [-0.75, 375.25], "nice": false, "zero": false}, "axis": null}, "y": {"field": "v", "type": "quantitative"}}},
{"data": {"name": "macd"}, "mark": {"type": "line", "color": "#000080", "strokeWidth": 2.2},
 "encoding": {"x": {"field": "i", "type": "quantitative", "axis": null}, "y": {"field": "v", "type": "quantitative"}}},
{"data": {"values": [{"i": 251, "v": -0.00231}, {"i": 375.25, "v": -0.00038}]}, "mark": {"type": "line", "color": "#000000", "strokeWidth": 1},
 "encoding": {"x": {"field": "i", "type": "quantitative", "axis": null}, "y": {"field": "v", "type": "quantitative"}}},
{"data": {"values": [{"t": "MACD(12,26,9) 0.000978 0.001485"}]}, "mark": {"type": "text", "fontSize": 8.3, "color": "#000000", "align": "left", "baseline": "middle"},
 "encoding": {"x": {"datum": 1.75, "type": "quantitative", "axis": null}, "y": {"datum": 0.00334, "type": "quantitative"}, "text": {"field": "t"}}}
]
},
{
"width": 752, "height": 126,
"layer": [
{"data": {"values": [{"v": 70}, {"v": 30}]}, "mark": {"type": "rule", "color": "#c0c0c0", "strokeWidth": 1, "strokeDash": [3, 2]},
 "encoding": {"y": {"field": "v", "type": "quantitative", "scale": {"domain": [0, 100], "nice": false},
  "axis": {"orient": "right", "title": null, "values": [0, 30, 70, 100], "tickCount": 30, "labelFlush": true, "labelFlushOffset": -3, "labelOverlap": false}}}},
{"data": {"name": "rsi"}, "mark": {"type": "line", "color": "#1e90ff", "strokeWidth": 1},
 "encoding": {"x": {"field": "i", "type": "quantitative", "scale": {"domain": [-0.75, 375.25], "nice": false, "zero": false},
  "axis": {"orient": "bottom", "title": null, "values": [0, 32, 64, 96, 128, 160, 192, 224, 256, 288, 320, 352], "tickCount": 40, "labelExpr": "['12 Sep 2019','19 Sep 12:00','26 Sep 20:00','4 Oct 04:00','11 Oct 12:00','18 Oct 20:00','28 Oct 04:00','4 Nov 12:00','11 Nov 20:00','19 Nov 04:00','26 Nov 12:00','3 Dec 20:00'][round(datum.value/32)]", "labelAlign": "left", "labelBaseline": "top", "tickSize": 4, "labelPadding": 2, "labelOverlap": false, "labelFlush": false}},
  "y": {"field": "r", "type": "quantitative"}}},
{"data": {"values": [{"t": "RSI(14) 43.6284"}]}, "mark": {"type": "text", "fontSize": 8.3, "color": "#000000", "align": "left", "baseline": "middle"},
 "encoding": {"x": {"datum": 1.75, "type": "quantitative"}, "y": {"datum": 92.1, "type": "quantitative"}, "text": {"field": "t"}}}
]
}
]
}
